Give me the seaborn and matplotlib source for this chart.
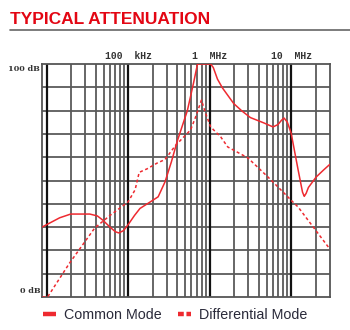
import matplotlib
matplotlib.use("Agg")
import matplotlib.pyplot as plt
from matplotlib.lines import Line2D
import numpy as np
import pandas as pd
import seaborn as sns

# ---- data (frequency in Hz, attenuation in dB) ----
cm_freq = [8.8e3, 14.5e3, 19.8e3, 33.9e3, 42e3, 49e3, 60e3, 70e3, 77e3, 88e3, 100e3,
           120e3, 140e3, 187e3, 234e3, 284e3, 340e3, 402e3, 534e3, 637e3, 711e3,
           1.03e6, 1.11e6, 1.25e6, 1.44e6, 1.98e6, 2.5e6, 3.17e6, 4.64e6, 6.0e6,
           6.9e6, 7.6e6, 8.2e6, 9.0e6, 10e6, 12.2e6, 13.8e6, 14.5e6, 15.3e6,
           16.3e6, 20.3e6, 25e6, 30e6]
cm_db = [30, 34, 35.6, 35.6, 34.8, 33, 30, 28, 27.5, 28.5, 31,
         35, 38, 40.8, 43, 49.4, 58, 67, 80, 92, 100,
         100, 98.5, 93.5, 89.7, 83, 79.8, 77, 74.7, 73,
         74, 75.8, 76.8, 75, 70.4, 54.5, 45, 43.2, 44.5,
         47, 51.5, 54.5, 57]

dm_freq = [8.9e3, 10.3e3, 19.2e3, 39e3, 60e3, 100e3, 122e3, 137e3, 171e3, 228e3,
           284e3, 381e3, 585e3, 670e3, 795e3, 890e3, 1.03e6, 1.37e6, 1.67e6,
           2.95e6, 5.2e6, 8.2e6, 10.5e6, 12.2e6, 30e6]
dm_db = [0, 0, 14.6, 29.6, 35, 40.8, 46, 53.5, 55, 57.5,
         59, 65, 71.7, 77, 84.5, 79, 73, 68.7, 64.4,
         59.7, 51.5, 44.6, 40.8, 38.6, 20.5]

series_names = ["Common Mode", "Differential Mode"]
title_text = "TYPICAL ATTENUATION"
x_labels = ["100  kHz", "1  MHz", "10  MHz"]
x_label_pos = [1e5, 1e6, 1e7]
y_labels = ["100 dB", "0 dB"]

df = pd.DataFrame({
    "freq": cm_freq + dm_freq,
    "db": cm_db + dm_db,
    "mode": [series_names[0]] * len(cm_freq) + [series_names[1]] * len(dm_freq),
})

sns.set_style("white")
RED = "#ee2a30"

fig = plt.figure(figsize=(3.5, 3.3), dpi=100)
ax = fig.add_axes([42 / 350, 1 - 297 / 330, 288 / 350, 233 / 330])

sns.lineplot(data=df, x="freq", y="db", hue="mode", style="mode",
             palette=[RED, RED], dashes=[(1, 0), (2.0, 1.7)],
             linewidth=1.1, ax=ax, legend=False, sort=False, zorder=5)

ax.set_xscale("log")
ax.set_xlim(8.8e3, 30e6)
ax.set_ylim(0, 100)

# grid
for dec in [1e4, 1e5, 1e6, 1e7]:
    for m in range(1, 10):
        f = dec * m
        if f <= 8.8e3 or f >= 30e6:
            continue
        if m == 1:
            ax.axvline(f, color="#111111", lw=1.6, zorder=2)
        else:
            ax.axvline(f, color="#5a5a5a", lw=1.3, zorder=1)
for yv in range(10, 100, 10):
    ax.axhline(yv, color="#5a5a5a", lw=1.3, zorder=1)

for s in ax.spines.values():
    s.set_color("#555555")
    s.set_linewidth(1.3)
ax.set_xticks([])
ax.set_yticks([])
ax.minorticks_off()
ax.set_xlabel("")
ax.set_ylabel("")

# tick labels
for lab, pos in zip(x_labels, x_label_pos):
    ax.text(pos, 101.5, lab, ha="center", va="bottom", fontsize=7,
            family="Liberation Mono", fontweight="bold", color="#333333")
ax.text(-0.006, 99.5, y_labels[0], transform=ax.get_yaxis_transform(),
        ha="right", va="top", fontsize=5.8, family="DejaVu Serif",
        fontweight="bold", color="#333333")
ax.text(-0.006, 0.8, y_labels[1], transform=ax.get_yaxis_transform(),
        ha="right", va="bottom", fontsize=5.8, family="DejaVu Serif",
        fontweight="bold", color="#333333")

# title and rule
fig.text(10 / 350, 1 - 24 / 330, title_text, ha="left", va="baseline",
         fontsize=12.5, fontweight="bold", color="#e30613",
         family=["Liberation Sans", "DejaVu Sans"])
fig.add_artist(Line2D([10 / 350, 1.0], [1 - 30 / 330, 1 - 30 / 330],
                      transform=fig.transFigure, color="#666666", lw=1.2))

# legend
handles = [Line2D([], [], color=RED, lw=3.2, linestyle="-",
                  solid_capstyle="butt"),
           Line2D([], [], color=RED, lw=3.2, linestyle=(0, (1.3, 0.6)),
                  dash_capstyle="butt")]
fig.legend(handles, series_names, loc="center left",
           bbox_to_anchor=(30 / 350, 1 - 315 / 330), ncol=2, frameon=False,
           handlelength=0.95, handletextpad=0.5, columnspacing=1.15,
           prop={"family": "Liberation Sans", "size": 10.3}, labelcolor="#2a2a3a")

fig.savefig("out.png", dpi=100)
